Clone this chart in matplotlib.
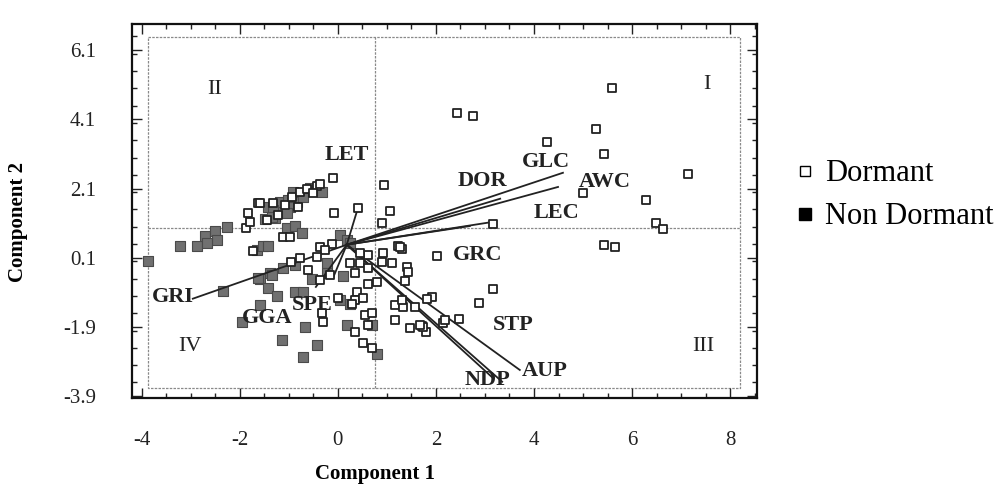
import matplotlib
matplotlib.use("Agg")
import matplotlib.pyplot as plt
from matplotlib.lines import Line2D
from matplotlib.ticker import MultipleLocator

plt.rcParams['font.family'] = ['Liberation Serif', 'DejaVu Serif']

# ---------------- data ----------------
dormant_x = [2.43, 2.76, 5.59, 5.27, 4.27, 5.43, 7.14, 5.00, 6.29, 6.49, 6.63, 5.43, 5.65,
             3.16, 2.02, 0.94, 1.06, 0.90, 1.22, 1.31, 3.16, 2.88, 2.47, 2.14, 1.92, 1.82,
             1.71, 1.80, -0.10, -0.08, 0.41, 0.92, 1.10, 1.27, 1.41, 1.43, 1.37, 1.16, 1.16,
             1.47, 1.73, 1.57, 1.33, 1.31, 2.18, 1.67,
             -1.12, -0.98, -0.37, -0.12, -0.27, -0.96, -0.78, -0.43, -0.61, -0.37, -0.16,
             0.24, 0.45, 0.61, 0.45, 0.61, 0.90, 0.80, 0.61, 0.35, 0.39, 0.35, 0.51, 0.00,
             -0.33, -0.31, 0.55, 0.69, 0.61, 0.35, 0.51, 0.69, -1.73, 0.29,
             -1.84, -1.88, -1.80, -1.63,
             -1.59, -1.33, -1.08, -0.94, -0.78, -0.63, -0.43, -0.37, -0.82, -1.45, -1.22, -0.51]
dormant_y = [4.29, 4.20, 5.01, 3.83, 3.45, 3.11, 2.53, 1.98, 1.78, 1.11, 0.94, 0.48, 0.42,
             1.08, 0.16, 2.21, 1.46, 1.11, 0.45, 0.36, -0.80, -1.20, -1.66, -1.78, -1.03, -1.08,
             -1.87, -2.04, 2.41, 1.40, 1.55, 0.24, -0.04, 0.42, -0.16, -0.30, -0.56, -1.26, -1.69,
             -1.92, -1.89, -1.32, -1.32, -1.11, -1.69, -1.84,
             0.71, 0.71, 0.42, 0.50, 0.33, -0.02, 0.10, 0.13, -0.25, -0.54, -0.39,
             -0.04, -0.04, 0.19, 0.24, -0.19, -0.02, -0.59, -0.65, -0.33, -0.88, -1.11, -1.06, -1.06,
             -1.49, -1.75, -1.55, -1.49, -1.84, -2.04, -2.36, -2.50, 0.30, -1.23,
             1.40, 0.97, 1.14, 1.69,
             1.69, 1.69, 1.63, 1.86, 2.01, 2.09, 2.18, 2.24, 1.57, 1.20, 1.34, 1.98]

nondormant_x = [-3.88, -3.22, -2.88, -2.71, -2.51, -2.47, -2.67, -2.27, -1.65, -1.53, -1.43,
                -1.49, -1.04, -0.88, -0.73, 0.04, 0.18, 0.24, -1.39, -1.59, -1.12, -0.22, -0.22,
                -0.53, 0.10, -1.43, -1.24, -0.88, -0.71, -1.59, 0.04, 0.24, -0.67, -1.14, -0.43,
                -0.71, 0.18, 0.69, 0.80, -2.35, -1.96, -1.63, -1.35, -0.88,
                -1.43, -1.24, -1.18, -1.02, -0.88, -0.84, -0.71, -0.57, -0.33, -0.98, -1.33,
                -1.29, -1.04, -0.92, -1.35]
nondormant_y = [0.01, 0.45, 0.45, 0.74, 0.88, 0.62, 0.53, 1.00, 0.33, 0.45, 0.45,
                1.23, 0.97, 1.02, 0.82, 0.76, 0.62, 0.53, -0.33, -0.51, -0.19, -0.04, -0.33,
                -0.51, -0.42, -0.77, -1.00, -0.88, -0.88, -1.26, -1.11, -1.23, -1.89, -2.27, -2.41,
                -2.76, -1.84, -1.84, -2.67, -0.85, -1.75, -0.48, -0.39, -0.10,
                1.57, 1.57, 1.72, 1.78, 1.98, 1.72, 1.86, 2.12, 2.01, 1.57, 1.49,
                1.26, 1.40, 2.01, 1.28]

vector_origin = (0.18, 0.48)
vector_names = ["LET", "GLC", "AWC", "DOR", "LEC", "GRC", "STP", "NDP", "AUP", "GRI", "GGA", "SPE"]
vector_x = [0.41, 4.59, 4.49, 3.31, 3.16, 2.69, 3.16, 3.35, 3.71, -2.96, -0.45, -0.10]
vector_y = [1.55, 2.56, 2.15, 1.81, 1.14, 1.02, -3.37, -3.48, -3.14, -1.08, -0.74, -0.48]
label_x = [0.18, 4.24, 5.45, 2.94, 4.45, 2.86, 3.57, 3.06, 4.22, -3.37, -1.45, -0.53]
label_y = [3.08, 2.87, 2.30, 2.33, 1.40, 0.19, -1.84, -3.43, -3.17, -1.03, -1.63, -1.26]

quadrant_names = ["I", "II", "III", "IV"]
quadrant_x = [7.53, -2.51, 7.45, -3.02]
quadrant_y = [5.10, 4.96, -2.47, -2.47]

xtick_values = [-4, -2, 0, 2, 4, 6, 8]
ytick_values = [6.1, 4.1, 2.1, 0.1, -1.9, -3.9]

# ---------------- figure ----------------
fig = plt.figure(figsize=(10.01, 4.86), dpi=100)
ax = fig.add_axes([0.1319, 0.1811, 0.6244, 0.7695])
ax.set_xlim(-4.20, 8.55)
ax.set_ylim(-3.95, 6.86)

grid_kw = dict(color="#8a8a8a", lw=0.9, ls=(0, (2, 1)), zorder=1)
ax.plot([-3.88, 8.20, 8.20, -3.88, -3.88], [6.49, 6.49, -3.66, -3.66, 6.49], **grid_kw)
ax.plot([0.755, 0.755], [-3.66, 6.49], **grid_kw)
ax.plot([-3.88, 8.20], [0.967, 0.967], **grid_kw)

for vx, vy in zip(vector_x, vector_y):
    ax.plot([vector_origin[0], vx], [vector_origin[1], vy], color="#222222", lw=1.3, zorder=3)

ax.scatter(nondormant_x, nondormant_y, marker="s", s=44, facecolor="#707070",
           edgecolor="#4a4a4a", linewidths=0.8, zorder=2)
ax.scatter(dormant_x, dormant_y, marker="s", s=40, facecolor="white",
           edgecolor="#222222", linewidths=1.3, zorder=4)

for name, lx, ly in zip(vector_names, label_x, label_y):
    ax.text(lx, ly, name, fontsize=16, fontweight="bold", ha="center", va="center",
            color="#222222", zorder=5)
for name, qx, qy in zip(quadrant_names, quadrant_x, quadrant_y):
    ax.text(qx, qy, name, fontsize=16, ha="center", va="center", color="#222222", zorder=5)

ax.set_xticks(xtick_values)
ax.set_xticklabels([f"{v:g}" for v in xtick_values])
ax.set_yticks(ytick_values)
ax.set_yticklabels([f"{v:.1f}" for v in ytick_values])
ax.xaxis.set_minor_locator(MultipleLocator(0.5))
ax.yaxis.set_minor_locator(MultipleLocator(0.5))
ax.tick_params(which="both", direction="in", top=True, right=True, width=1.0, color="#222222")
ax.tick_params(which="major", length=7)
ax.tick_params(which="minor", length=3.5)
ax.tick_params(axis="x", which="major", labelsize=15, pad=24, labelcolor="#222222")
ax.tick_params(axis="y", which="major", labelsize=15, pad=26, labelcolor="#222222")
for sp in ax.spines.values():
    sp.set_linewidth(1.6)
    sp.set_color("#111111")

ax.set_xlabel("Component 1", fontsize=15, fontweight="bold", va="center")
ax.xaxis.set_label_coords(0.389, -0.203)
ax.set_ylabel("Component 2", fontsize=15, fontweight="bold", va="center")
ax.yaxis.set_label_coords(-0.182, 0.47)

handles = [Line2D([], [], ls="none", marker="s", markersize=7, markerfacecolor="white",
                  markeredgecolor="black", markeredgewidth=1.0),
           Line2D([], [], ls="none", marker="s", markersize=9, markerfacecolor="black",
                  markeredgecolor="black")]
fig.legend(handles, ["Dormant", "Non Dormant"], loc="center left",
           bbox_to_anchor=(0.795, 0.598), frameon=False, fontsize=22,
           handlelength=0.6, handletextpad=0.35, labelspacing=0.45, borderpad=0,
           borderaxespad=0)

fig.savefig("out.png", dpi=100)
